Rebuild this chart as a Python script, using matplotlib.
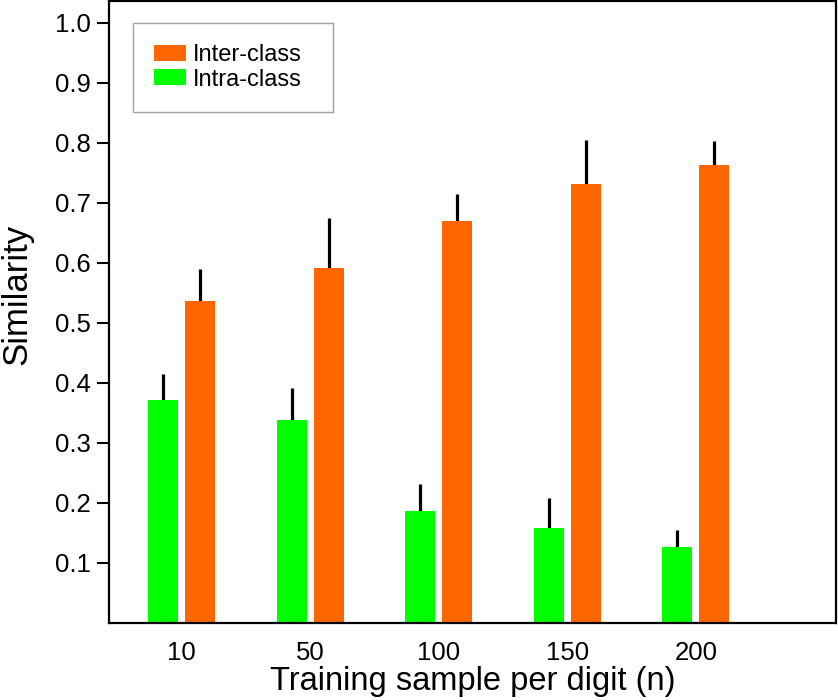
import numpy as np
import matplotlib
matplotlib.use("Agg")
import matplotlib.pyplot as plt

plt.rcParams['font.family'] = ['Liberation Sans', 'DejaVu Sans']

samples = ['10', '50', '100', '150', '200']
intra_mean = [0.372, 0.338, 0.187, 0.159, 0.127]
intra_err = [0.043, 0.053, 0.044, 0.049, 0.028]
inter_mean = [0.536, 0.591, 0.669, 0.731, 0.762]
inter_err = [0.054, 0.083, 0.045, 0.074, 0.041]

green = '#00ff00'
orange = '#ff6600'

fig = plt.figure(figsize=(8.38, 7.0), dpi=100)
ax = fig.add_axes([0.130, 0.110, 0.8676, 0.8886])

x = np.arange(len(samples))
w = 0.233
off = 0.144

ax.bar(x + off, inter_mean, w, color=orange, label='Inter-class', zorder=2)
ax.bar(x - off, intra_mean, w, color=green, label='Intra-class', zorder=2)

# only the upper half of the error bars is drawn
ax.errorbar(x - off, intra_mean, yerr=[np.zeros(len(x)), intra_err],
            fmt='none', ecolor='black', elinewidth=2.3, capsize=0, zorder=1)
ax.errorbar(x + off, inter_mean, yerr=[np.zeros(len(x)), inter_err],
            fmt='none', ecolor='black', elinewidth=2.3, capsize=0, zorder=1)

ax.set_xlim(-0.564, 5.09)
ax.set_ylim(0, 1.036)
ax.set_xticks(x)
ax.set_xticklabels(samples)
ax.set_yticks(np.arange(0.1, 1.01, 0.1))
ax.set_yticklabels([f'{v:.1f}' for v in np.arange(0.1, 1.01, 0.1)])

ax.tick_params(axis='y', direction='out', length=9, width=1.5, labelsize=18.5, pad=4)
ax.tick_params(axis='x', length=0, labelsize=18.5, pad=13)
for s in ax.spines.values():
    s.set_linewidth(1.6)

ax.set_xlabel('Training sample per digit (n)', fontsize=23.5, labelpad=1)
ax.set_ylabel('Similarity', fontsize=25)
ax.yaxis.set_label_coords(-0.1045, 0.529)

leg = ax.legend(loc='upper left', bbox_to_anchor=(0.033, 0.5, 0.275, 0.4646),
                mode='expand', borderaxespad=0,
                fontsize=17, fancybox=False, frameon=True, edgecolor='#888888',
                handlelength=1.34, handleheight=0.68, handletextpad=0.28,
                borderpad=0.9, labelspacing=0.1)
leg.get_frame().set_linewidth(1.0)

fig.savefig('out.png', dpi=100)
